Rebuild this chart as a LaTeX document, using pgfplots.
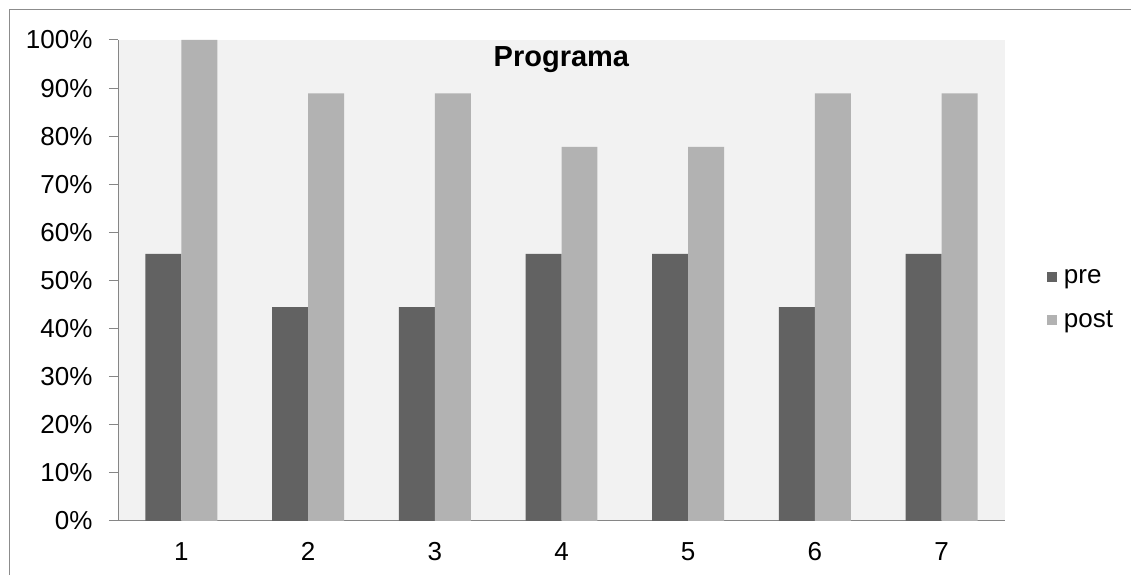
\documentclass[border=0pt]{standalone}
\usepackage{pgfplots}
\pgfplotsset{compat=1.18}
\usepackage{fontspec}
\setmainfont{Liberation Sans}

\definecolor{preC}{HTML}{626262}
\definecolor{postC}{HTML}{B2B2B2}
\definecolor{bgC}{HTML}{F2F2F2}
\definecolor{axC}{HTML}{868686}
\definecolor{frameC}{HTML}{8C8C8C}

\pgfplotstableread{
cat pre post
1 55.56 100.00
2 44.44 88.89
3 44.44 88.89
4 55.56 77.78
5 55.56 77.78
6 44.44 88.89
7 55.56 88.89
}\datatable

\begin{document}
\begin{tikzpicture}[x=1pt,y=1pt]
\useasboundingbox (0,0) rectangle (1131,575);
% chart frame (top and left edges)
\draw[frameC, line width=1.5pt] (9.5,0) -- (9.5,565.5) -- (1131,565.5);
\begin{axis}[
  at={(118pt,54pt)}, anchor=south west,
  width=887pt, height=481pt, scale only axis,
  xmin=0.5, xmax=7.5, ymin=0, ymax=100,
  axis lines*=left,
  axis line style={draw=axC, line width=1pt, -},
  axis background/.style={fill=bgC},
  xtick={1,...,7},
  xtick style={draw=none},
  extra x ticks={0.5,1.5,...,7.5},
  extra x tick labels={},
  extra x tick style={tick style={draw=axC, line width=1pt}, major tick length=9pt, tick align=outside},
  ytick={0,10,...,100},
  ytick style={draw=axC, line width=1pt},
  tick align=outside, major tick length=9pt,
  yticklabel={\pgfmathprintnumber{\tick}\%},
  /pgf/number format/assume math mode=true,
  tick label style={font=\fontsize{26}{31}\selectfont, text=black},
  yticklabel style={xshift=-13pt},
  xticklabel style={yshift=-9pt},
  ybar, bar width=0.284,
  title={\textbf{Programa}},
  title style={font=\fontsize{29}{34}\selectfont, at={(0.5,0.946)}, anchor=center},
  legend style={at={(1.047,0.528)}, anchor=north west, draw=none, fill=none,
    font=\fontsize{26}{31}\selectfont, inner sep=0pt, row sep=22pt,
    nodes={inner xsep=7pt}},
  legend cell align=left,
  legend image code/.code={\fill[#1] (0pt,-5pt) rectangle (10pt,5pt);},
]
\addplot[fill=preC, draw=none, bar shift=-0.142] table[x=cat, y=pre] {\datatable};
\addplot[fill=postC, draw=none, bar shift=0.142] table[x=cat, y=post] {\datatable};
\legend{pre, post}
\end{axis}
\end{tikzpicture}
\end{document}
